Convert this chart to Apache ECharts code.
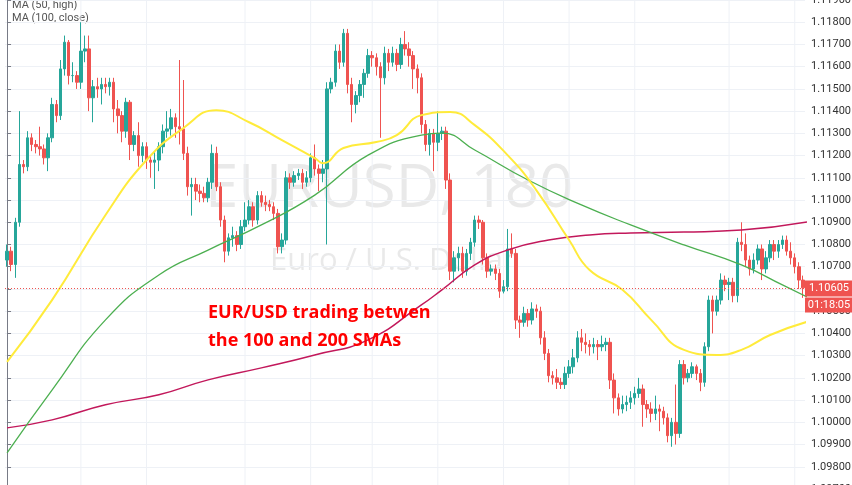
<!DOCTYPE html>
<html>
<head>
<meta charset="utf-8">
<script src="https://cdn.jsdelivr.net/npm/echarts@6/dist/echarts.min.js"></script>
<style>html,body{margin:0;padding:0;background:#fff}#chart{width:852px;height:485px}</style>
</head>
<body>
<div id="chart"></div>
<script>
// EUR/USD 180 min candles, open of each candle = previous close
var firstOpen = 1.1073;
var closes = [1.1077,1.1071,1.1090,1.1116,1.1115,1.1128,1.1125,1.1124,1.1123,1.1119,1.1128,1.1143,1.1138,1.1159,1.1171,1.1156,1.1156,1.1153,1.1167,1.1168,
1.1146,1.1151,1.1150,1.1152,1.1151,1.1153,1.1141,1.1138,1.1131,1.1144,1.1125,1.1129,1.1120,1.1124,1.1118,1.1117,1.1118,1.1124,1.1131,1.1132,
1.1137,1.1133,1.1132,1.1121,1.1106,1.1107,1.1104,1.1103,1.1101,1.1108,1.1121,1.1106,1.1091,1.1077,1.1083,1.1084,1.1080,1.1088,1.1091,1.1097,
1.1091,1.1102,1.1099,1.1098,1.1097,1.1094,1.1079,1.1082,1.1110,1.1108,1.1111,1.1112,1.1108,1.1110,1.1119,1.1114,1.1112,1.1114,1.1150,1.1153,
1.1167,1.1162,1.1175,1.1152,1.1143,1.1147,1.1152,1.1157,1.1165,1.1164,1.1160,1.1155,1.1166,1.1162,1.1166,1.1161,1.1170,1.1168,1.1165,1.1159,
1.1155,1.1134,1.1125,1.1130,1.1126,1.1130,1.1131,1.1109,1.1068,1.1074,1.1076,1.1068,1.1076,1.1081,1.1091,1.1090,1.1074,1.1068,1.1069,1.1067,
1.1059,1.1061,1.1078,1.1076,1.1046,1.1045,1.1049,1.1046,1.1051,1.1050,1.1038,1.1031,1.1021,1.1020,1.1018,1.1017,1.1022,1.1025,1.1029,1.1038,
1.1036,1.1035,1.1034,1.1035,1.1034,1.1035,1.1036,1.1019,1.1011,1.1006,1.1008,1.1009,1.1011,1.1013,1.1015,1.1008,1.1006,1.1004,1.1006,1.1005,
1.1002,1.0994,1.1000,1.0995,1.1026,1.1020,1.1022,1.1025,1.1022,1.1018,1.1034,1.1055,1.1050,1.1055,1.1064,1.1062,1.1063,1.1057,1.1081,1.1080,
1.1073,1.1069,1.1073,1.1078,1.1069,1.1074,1.1080,1.1077,1.1080,1.1082,1.1077,1.1074,1.1070,1.1064,1.10605];
var lows = [1.1070,1.1068,1.1065,1.1088,1.1112,1.1113,1.1122,1.1121,1.1120,1.1116,1.1113,1.1126,1.1135,1.1136,1.1156,1.1152,1.1153,1.1150,1.1150,1.1162,
1.1140,1.1135,1.1146,1.1143,1.1148,1.1147,1.1135,1.1130,1.1126,1.1128,1.1118,1.1122,1.1115,1.1117,1.1114,1.1110,1.1105,1.1113,1.1121,1.1128,
1.1129,1.1128,1.1125,1.1118,1.1102,1.1093,1.1100,1.1099,1.1099,1.1099,1.1105,1.1104,1.1088,1.1072,1.1075,1.1079,1.1077,1.1078,1.1086,1.1089,
1.1088,1.1089,1.1097,1.1095,1.1095,1.1091,1.1076,1.1076,1.1080,1.1105,1.1106,1.1109,1.1105,1.1106,1.1108,1.1111,1.1104,1.1108,1.1080,1.1148,
1.1151,1.1159,1.1160,1.1148,1.1135,1.1139,1.1144,1.1146,1.1155,1.1160,1.1156,1.1128,1.1152,1.1158,1.1160,1.1158,1.1159,1.1165,1.1160,1.1150,
1.1148,1.1130,1.1122,1.1120,1.1113,1.1122,1.1127,1.1105,1.1064,1.1063,1.1068,1.1065,1.1066,1.1073,1.1079,1.1087,1.1071,1.1065,1.1066,1.1064,
1.1056,1.1058,1.1059,1.1074,1.1042,1.1038,1.1043,1.1043,1.1044,1.1047,1.1035,1.1028,1.1018,1.1017,1.1015,1.1015,1.1015,1.1020,1.1022,1.1027,
1.1032,1.1031,1.1030,1.1031,1.1028,1.1032,1.1032,1.1015,1.1004,1.1003,1.1004,1.1005,1.1006,1.1008,1.1011,1.0998,1.1002,1.1000,1.1001,1.0996,
1.0999,1.0991,1.0989,1.0990,1.0993,1.1017,1.1018,1.1020,1.1019,1.1014,1.1016,1.1032,1.1040,1.1048,1.1053,1.1059,1.1055,1.1054,1.1054,1.1077,
1.1070,1.1066,1.1067,1.1071,1.1064,1.1067,1.1072,1.1073,1.1074,1.1078,1.1075,1.1071,1.1067,1.1060,1.1056];
var highs = [1.1080,1.1079,1.1092,1.1140,1.1118,1.1131,1.1130,1.1127,1.1133,1.1125,1.1130,1.1146,1.1145,1.1163,1.1174,1.1172,1.1162,1.1158,1.1180,1.1174,
1.1174,1.1154,1.1155,1.1155,1.1155,1.1155,1.1155,1.1145,1.1140,1.1146,1.1145,1.1131,1.1135,1.1126,1.1126,1.1120,1.1122,1.1126,1.1134,1.1140,
1.1141,1.1139,1.1163,1.1154,1.1124,1.1110,1.1110,1.1107,1.1106,1.1110,1.1125,1.1124,1.1108,1.1093,1.1085,1.1088,1.1086,1.1091,1.1099,1.1100,
1.1099,1.1104,1.1104,1.1102,1.1100,1.1099,1.1096,1.1085,1.1113,1.1112,1.1113,1.1114,1.1114,1.1113,1.1121,1.1125,1.1116,1.1118,1.1153,1.1155,
1.1170,1.1170,1.1177,1.1177,1.1155,1.1149,1.1154,1.1159,1.1168,1.1167,1.1166,1.1162,1.1169,1.1168,1.1169,1.1168,1.1173,1.1176,1.1171,1.1167,
1.1161,1.1157,1.1136,1.1132,1.1132,1.1140,1.1133,1.1133,1.1112,1.1077,1.1079,1.1079,1.1078,1.1083,1.1093,1.1093,1.1091,1.1076,1.1071,1.1071,
1.1069,1.1064,1.1087,1.1085,1.1078,1.1048,1.1052,1.1051,1.1054,1.1053,1.1052,1.1041,1.1033,1.1023,1.1024,1.1020,1.1025,1.1028,1.1033,1.1041,
1.1042,1.1040,1.1037,1.1038,1.1037,1.1039,1.1038,1.1038,1.1022,1.1013,1.1012,1.1012,1.1014,1.1016,1.1020,1.1017,1.1010,1.1009,1.1012,1.1008,
1.1007,1.1004,1.1002,1.1017,1.1028,1.1028,1.1024,1.1027,1.1026,1.1024,1.1036,1.1057,1.1057,1.1057,1.1067,1.1066,1.1065,1.1065,1.1083,1.1090,
1.1085,1.1075,1.1076,1.1080,1.1080,1.1077,1.1082,1.1082,1.1082,1.1084,1.1084,1.1081,1.1076,1.1072,1.1066];

// moving averages: [candle index, price]
var ma50High = [[0,1.10272],[11,1.10551],[24,1.10933],[34,1.1118],[43,1.11324],[51,1.11404],[59,1.1135],[67,1.1127],[75,1.11189],[77,1.11166],
[82,1.11234],[90,1.11261],[95,1.11292],[101,1.11382],[108,1.11396],[114,1.11337],[122,1.11202],[129,1.11045],[137,1.1082],[142,1.10685],
[150,1.10596],[157,1.10461],[165,1.10326],[173,1.10303],[179,1.10326],[186,1.10393],[195,1.10452]];
var ma100Close = [[0,1.09863],[11,1.10146],[24,1.10461],[37,1.10663],[49,1.10775],[62,1.10888],[75,1.11022],[88,1.11202],[101,1.11292],[106,1.11301],
[114,1.11225],[127,1.1109],[140,1.10978],[152,1.10888],[165,1.10798],[179,1.10708],[189,1.10618],[195,1.10564]];
var ma200 = [[0,1.09975],[11,1.10011],[24,1.10079],[37,1.10124],[49,1.10191],[62,1.10245],[75,1.10303],[88,1.10371],[101,1.10528],[106,1.10596],
[114,1.10708],[122,1.10775],[132,1.1082],[142,1.10843],[152,1.10852],[165,1.10856],[179,1.10865],[195,1.10901]];
var gridCols = [18,34,58,74,89,105,121,137,153,176,192];
var lastPrice = 1.10605;
var timeLeft = '01:18:05';

var yMin = 1.097, yMax = 1.119;
var chart = echarts.init(document.getElementById('chart'));
var cats = [], candles = [];
var prev = firstOpen;
for (var i = 0; i < closes.length; i++) {
    cats.push(i);
    candles.push([prev, closes[i], lows[i], highs[i]]);
    prev = closes[i];
}

var option = {
    animation: false,
    backgroundColor: '#fff',
    grid: {left: 5, right: 47, top: 0, bottom: -4, outerBoundsMode: 'none'},
    xAxis: [
        {type: 'category', data: cats, boundaryGap: true, show: false},
        {type: 'value', min: -0.5, max: closes.length - 0.5, show: false}
    ],
    yAxis: {
        type: 'value', position: 'right', min: yMin, max: yMax, interval: 0.001,
        axisLine: {show: true, lineStyle: {color: '#787b86'}},
        axisTick: {show: true, length: 4, lineStyle: {color: '#787b86'}},
        axisLabel: {color: '#333', fontSize: 11, fontFamily: 'Roboto', margin: 6,
            formatter: function(v){ return v.toFixed(5); }},
        splitLine: {lineStyle: {color: '#eef1f6'}}
    },
    graphic: [
        {type: 'text', left: 12, top: 0, style: {text: 'MA (50, high)', fill: '#555', font: '11px Roboto'}},
        {type: 'text', left: 12, top: 13, style: {text: 'MA (100, close)', fill: '#555', font: '11px Roboto'}},
        {type: 'text', left: 205, top: 160, z: -1, style: {text: 'EURUSD, 180', fill: 'rgba(120,120,120,0.16)', font: '60px "Open Sans"'}},
        {type: 'text', left: 270, top: 246, z: -1, style: {text: 'Euro / U.S. Dollar', fill: 'rgba(120,120,120,0.16)', font: '31px "Open Sans"'}},
        {type: 'text', left: 208, top: 299, z: 100, style: {text: 'EUR/USD trading betwen\nthe 100 and 200 SMAs', fill: '#ff0000', font: 'bold 18px "Open Sans"', lineHeight: 28}}
    ],
    series: [
        {
            // vertical time grid lines
            type: 'custom', xAxisIndex: 1, silent: true, z: 0,
            data: gridCols.map(function(c){ return [c]; }),
            renderItem: function(params, api){
                var a = api.coord([api.value(0), yMax]);
                var b = api.coord([api.value(0), yMin]);
                return {type: 'line', shape: {x1: a[0], y1: a[1], x2: b[0], y2: b[1]}, style: {stroke: '#eef1f6', lineWidth: 1}};
            }
        },
        {
            type: 'candlestick', data: candles, barWidth: 3,
            itemStyle: {color: '#26a69a', color0: '#ef5350', borderColor: '#26a69a', borderColor0: '#ef5350', borderWidth: 1}
        },
        {type: 'line', xAxisIndex: 1, data: ma200, smooth: true, showSymbol: false, lineStyle: {color: '#c2185b', width: 1.5}, z: 3},
        {type: 'line', xAxisIndex: 1, data: ma100Close, smooth: true, showSymbol: false, lineStyle: {color: '#4caf50', width: 1.3}, z: 3},
        {type: 'line', xAxisIndex: 1, data: ma50High, smooth: true, showSymbol: false, lineStyle: {color: '#ffeb3b', width: 2}, z: 3},
        {
            // last price line with its axis labels
            type: 'custom', xAxisIndex: 1, silent: true, z: 10,
            data: [[lastPrice]],
            renderItem: function(params, api){
                var a = api.coord([-0.5, api.value(0)]);
                var b = api.coord([closes.length - 0.5, api.value(0)]);
                var y = Math.round(a[1]) + 0.5;
                return {type: 'group', children: [
                    {type: 'line', shape: {x1: a[0], y1: y, x2: b[0], y2: y}, style: {stroke: '#ef5350', lineWidth: 1, lineDash: [1, 2]}},
                    {type: 'rect', shape: {x: b[0], y: y - 8, width: 47, height: 16}, style: {fill: '#ef5350'}},
                    {type: 'text', x: b[0] + 24, y: y, style: {text: lastPrice.toFixed(5), fill: '#fff', font: '11px Roboto', align: 'center', verticalAlign: 'middle'}},
                    {type: 'rect', shape: {x: b[0], y: y + 9, width: 47, height: 15}, style: {fill: '#ef5350'}},
                    {type: 'text', x: b[0] + 24, y: y + 16.5, style: {text: timeLeft, fill: '#fff', font: '11px Roboto', align: 'center', verticalAlign: 'middle'}}
                ]};
            }
        }
    ]
};
chart.setOption(option);
</script>
</body>
</html>
